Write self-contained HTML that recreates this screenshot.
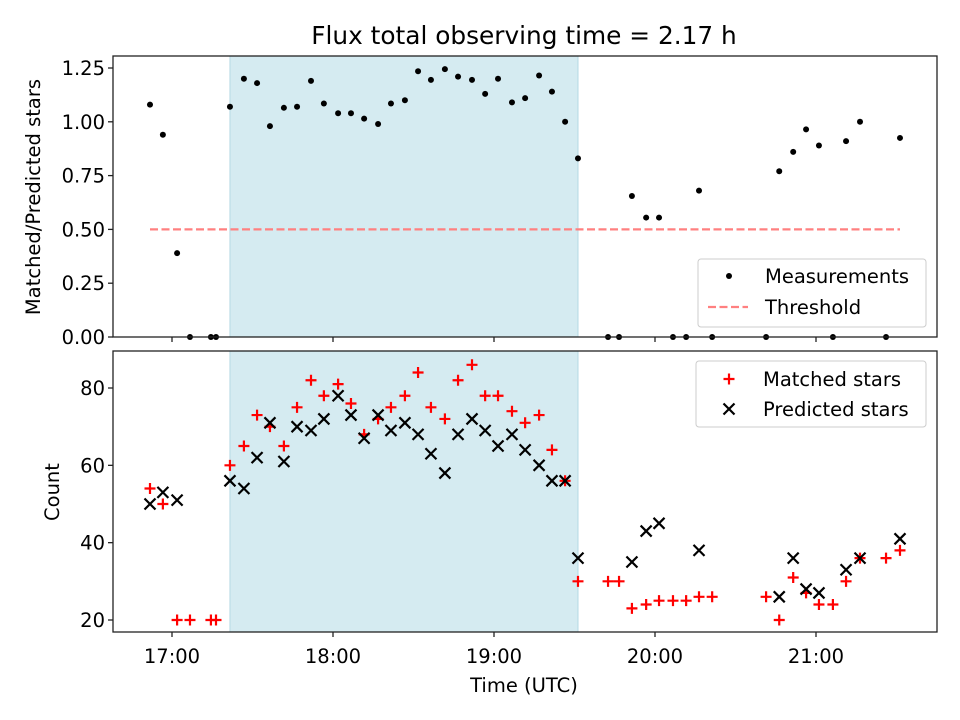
<!DOCTYPE html>
<html><head><meta charset="utf-8"><style>
html,body{margin:0;padding:0;background:#fff}
svg{display:block;font-family:"DejaVu Sans","Liberation Sans",sans-serif}
</style></head><body>
<svg id="chart" width="960" height="720" viewBox="0 0 960 720"></svg>
<script>
// minutes since 17:00 UTC
const times = [-8.2,-3.4,1.9,6.7,14.5,16.4,21.6,26.8,31.7,36.5,41.7,46.6,51.8,56.6,61.9,66.7,71.6,76.8,81.6,86.8,91.7,96.5,101.7,106.6,111.8,116.7,121.5,126.7,131.6,136.8,141.6,146.5,151.3,162.5,166.6,171.4,176.7,181.5,186.7,191.6,196.4,201.3,221.4,226.3,231.5,236.3,241.1,246.3,251.2,256.4,266.1,271.3];
const ratio = [1.08,0.94,0.39,0,0,0,1.07,1.20,1.18,0.98,1.065,1.07,1.19,1.085,1.04,1.04,1.015,0.99,1.085,1.10,1.235,1.195,1.245,1.21,1.195,1.13,1.20,1.09,1.11,1.215,1.14,1.00,0.83,0,0,0.655,0.555,0.555,0,0,0.68,0,0,0.77,0.86,0.965,0.89,0,0.91,1.00,0,0.925];
const matched = [54,50,20,20,20,20,60,65,73,70,65,75,82,78,81,76,68,72,75,78,84,75,72,82,86,78,78,74,71,73,64,56,30,30,30,23,24,25,25,25,26,26,26,20,31,27,24,24,30,36,36,38];
const predicted = [50,53,51,null,null,null,56,54,62,71,61,70,69,72,78,73,67,73,69,71,68,63,58,68,72,69,65,68,64,60,56,56,36,null,null,35,43,45,null,null,38,null,null,26,36,28,27,null,33,36,null,41];
const xTickLabels = ["17:00","18:00","19:00","20:00","21:00"];
const xTickMins = [0,60,120,180,240];
const topTicks = [0,0.25,0.5,0.75,1.0,1.25];
const topTickLabels = ["0.00","0.25","0.50","0.75","1.00","1.25"];
const botTicks = [20,40,60,80];
const threshold = 0.5;
const shadeStartIdx = 6, shadeEndIdx = 32;

const NS="http://www.w3.org/2000/svg";
const svg=document.getElementById('chart');
function mk(tag,attrs,parent){const e=document.createElementNS(NS,tag);for(const k in attrs)e.setAttribute(k,attrs[k]);(parent||svg).appendChild(e);return e;}
const L=113,R=937;
const FS=19.5, TFS=24.8;
const xS=m=>172+m*161/60;
const yTop=v=>337-v*(337-68)/1.25;
const yBot=v=>620-(v-20)*(620-388)/60;

let t=mk('text',{x:524,y:44,'text-anchor':'middle','font-size':TFS});t.textContent='Flux total observing time = 2.17 h';


function panel(y0,y1,name){
  const g=mk('g',{});
  
  const sh=mk('rect',{x:xS(times[shadeStartIdx]),y:y0,width:xS(times[shadeEndIdx])-xS(times[shadeStartIdx]),height:y1-y0,fill:'#d5ebf1',stroke:'#b5d9e4','stroke-width':1},g);
  
  return g;
}
function frame(g,y0,y1){mk('rect',{x:L,y:y0,width:R-L,height:y1-y0,fill:'none',stroke:'#222','stroke-width':1.3},g);}

const gt=panel(56,337,'ratio-panel');
const th=mk('line',{x1:xS(times[0]),x2:xS(times[times.length-1]),y1:yTop(threshold),y2:yTop(threshold),stroke:'#ff8080','stroke-width':2.2,'stroke-dasharray':'8,3.5'},gt);

times.forEach((m,i)=>{const c=mk('circle',{cx:xS(m),cy:yTop(ratio[i]),r:3,fill:'#000'},gt);
  });
frame(gt,56,337);
topTicks.forEach((v,i)=>{const y=yTop(v);mk('line',{x1:L-5,x2:L,y1:y,y2:y,stroke:'#222','stroke-width':1.3},gt);
  const tx=mk('text',{x:L-8,y:y+7,'text-anchor':'end','font-size':FS},gt);tx.textContent=topTickLabels[i];
  });
xTickMins.forEach(m=>mk('line',{x1:xS(m),x2:xS(m),y1:337,y2:342,stroke:'#222','stroke-width':1.3},gt));
let yl=mk('text',{x:40,y:197,'text-anchor':'middle','font-size':FS,transform:'rotate(-90 40 197)'},gt);yl.textContent='Matched/Predicted stars';

const lg1=mk('g',{},gt);
mk('rect',{x:698,y:259,width:228,height:68,rx:3,fill:'#fff','fill-opacity':0.8,stroke:'#ccc'},lg1);
mk('circle',{cx:729,cy:276,r:3,fill:'#000'},lg1);
let e=mk('text',{x:765,y:283,'font-size':FS},lg1);e.textContent='Measurements';
mk('line',{x1:708,x2:748,y1:307,y2:307,stroke:'#ff8080','stroke-width':2.2,'stroke-dasharray':'8,3.5'},lg1);
e=mk('text',{x:765,y:314,'font-size':FS},lg1);e.textContent='Threshold';

const gb=panel(351,632,'count-panel');
function plus(x,y,g){return mk('path',{d:`M${x-5.5},${y}H${x+5.5}M${x},${y-5.5}V${y+5.5}`,stroke:'#f00','stroke-width':2.2,fill:'none'},g);}
function cross(x,y,g){return mk('path',{d:`M${x-5.5},${y-5.5}L${x+5.5},${y+5.5}M${x-5.5},${y+5.5}L${x+5.5},${y-5.5}`,stroke:'#000','stroke-width':2.2,fill:'none'},g);}
times.forEach((m,i)=>{const p=plus(xS(m),yBot(matched[i]),gb);
  });
times.forEach((m,i)=>{if(predicted[i]==null)return;const p=cross(xS(m),yBot(predicted[i]),gb);
  });
frame(gb,351,632);
botTicks.forEach(v=>{const y=yBot(v);mk('line',{x1:L-5,x2:L,y1:y,y2:y,stroke:'#222','stroke-width':1.3},gb);
  const tx=mk('text',{x:L-8,y:y+7,'text-anchor':'end','font-size':FS},gb);tx.textContent=String(v);
  });
xTickMins.forEach((m,i)=>{mk('line',{x1:xS(m),x2:xS(m),y1:632,y2:637,stroke:'#222','stroke-width':1.3},gb);
  const tx=mk('text',{x:xS(m),y:663,'text-anchor':'middle','font-size':FS},gb);tx.textContent=xTickLabels[i];
  });
yl=mk('text',{x:59,y:492,'text-anchor':'middle','font-size':FS,transform:'rotate(-90 59 492)'},gb);yl.textContent='Count';

let xl=mk('text',{x:524,y:692,'text-anchor':'middle','font-size':FS},gb);xl.textContent='Time (UTC)';

const lg2=mk('g',{},gb);
mk('rect',{x:696,y:361,width:230,height:66,rx:3,fill:'#fff','fill-opacity':0.8,stroke:'#ccc'},lg2);
plus(729,379,lg2);
e=mk('text',{x:763,y:386,'font-size':FS},lg2);e.textContent='Matched stars';
cross(729,409,lg2);
e=mk('text',{x:763,y:416,'font-size':FS},lg2);e.textContent='Predicted stars';
</script>
</body></html>
